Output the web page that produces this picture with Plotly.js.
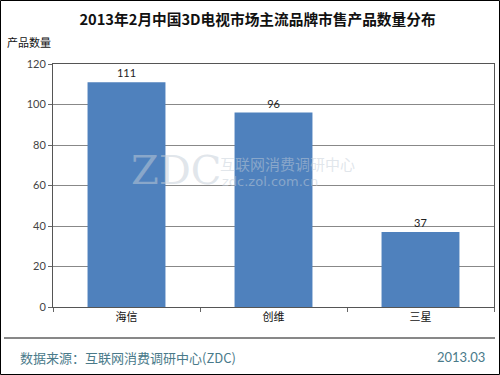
<!DOCTYPE html>
<html><head><meta charset="utf-8">
<script src="https://cdn.plot.ly/plotly-3.0.1.min.js"></script>
<style>html,body{margin:0;padding:0;background:#fff}#c{width:500px;height:375px}</style>
</head><body><div id="c"></div>
<script>
var categories = ["海信", "创维", "三星"];
var values = [111, 96, 37];
var yTicks = [0, 20, 40, 60, 80, 100, 120];

var W = 500, H = 375, L = 53, R = 6, T = 64, B = 68;
var pw = W - L - R, ph = H - T - B;
function px(x){ return (x - L) / pw; }
function py(y){ return (H - B - y) / ph; }

var cjk = '"Noto Sans CJK SC", "Noto Sans", sans-serif';
var trace = {
  type: 'bar', x: categories, y: values,
  marker: {color: '#4f81bd'},
  text: values.map(String), textposition: 'outside', cliponaxis: false,
  textfont: {family: 'Lato, "DejaVu Sans", sans-serif', size: 11, color: '#222'},
  hoverinfo: 'none'
};
var layout = {
  width: W, height: H, margin: {l: L, r: R, t: T, b: B},
  paper_bgcolor: '#fff', plot_bgcolor: '#fff',
  bargap: 0.47, showlegend: false,
  title: {text: '2013年2月中国3D电视市场主流品牌市售产品数量分布', x: 257.5 / W, xref: 'container', xanchor: 'center', y: 1 - 20/H, yanchor: 'middle',
          font: {family: cjk, size: 14.7, color: '#111', weight: 'bold'}},
  xaxis: {type: 'category', tickson: 'boundaries', ticks: 'outside', ticklen: 4, tickcolor: '#666',
          showline: true, linecolor: '#555', linewidth: 1, mirror: true, showgrid: false,
          tickfont: {family: cjk, size: 11, color: '#111'}, fixedrange: true},
  yaxis: {range: [0, 120], tickvals: yTicks, ticks: 'outside', ticklen: 4, tickcolor: '#666',
          showline: true, linecolor: '#555', mirror: true, gridcolor: '#888', gridwidth: 1,
          zeroline: false, tickfont: {family: 'Lato, "DejaVu Sans", sans-serif', size: 11, color: '#444'}, fixedrange: true},
  shapes: [
    {type: 'rect', xref: 'paper', yref: 'paper', x0: px(0.5), x1: px(499.5), y0: py(374.5), y1: py(0.5),
     line: {color: '#000', width: 1}, fillcolor: 'rgba(0,0,0,0)', layer: 'above'},
    {type: 'line', xref: 'paper', yref: 'paper', x0: px(4), x1: px(495), y0: py(338), y1: py(338),
     line: {color: '#111', width: 1}}
  ],
  annotations: [
    {text: '产品数量', xref: 'paper', yref: 'paper', x: px(5), y: py(42), xanchor: 'left', yanchor: 'middle', showarrow: false,
     font: {family: cjk, size: 11, color: '#111'}},
    {text: '数据来源：互联网消费调研中心(ZDC)', xref: 'paper', yref: 'paper', x: px(18), y: py(357), xanchor: 'left', yanchor: 'middle', showarrow: false,
     font: {family: cjk, size: 13, color: '#4a7a8a'}},
    {text: '2013.03', xref: 'paper', yref: 'paper', x: px(487), y: py(357), xanchor: 'right', yanchor: 'middle', showarrow: false,
     font: {family: 'Lato, "DejaVu Sans", sans-serif', size: 13, color: '#4a7a8a'}},
    {text: 'ZDC', xref: 'paper', yref: 'paper', x: px(176), y: py(170), xanchor: 'center', yanchor: 'middle', showarrow: false,
     font: {family: '"DejaVu Serif", serif', size: 40, color: 'rgba(195,205,216,0.5)'}},
    {text: '互联网消费调研中心', xref: 'paper', yref: 'paper', x: px(218), y: py(163), xanchor: 'left', yanchor: 'middle', showarrow: false,
     font: {family: cjk, size: 15, color: 'rgba(195,205,216,0.5)'}},
    {text: 'zdc.zol.com.cn', xref: 'paper', yref: 'paper', x: px(220), y: py(181), xanchor: 'left', yanchor: 'middle', showarrow: false,
     font: {family: '"DejaVu Sans", sans-serif', size: 13, color: 'rgba(195,205,216,0.5)'}}
  ]
};
Plotly.newPlot('c', [trace], layout, {displayModeBar: false, staticPlot: true});
</script></body></html>
